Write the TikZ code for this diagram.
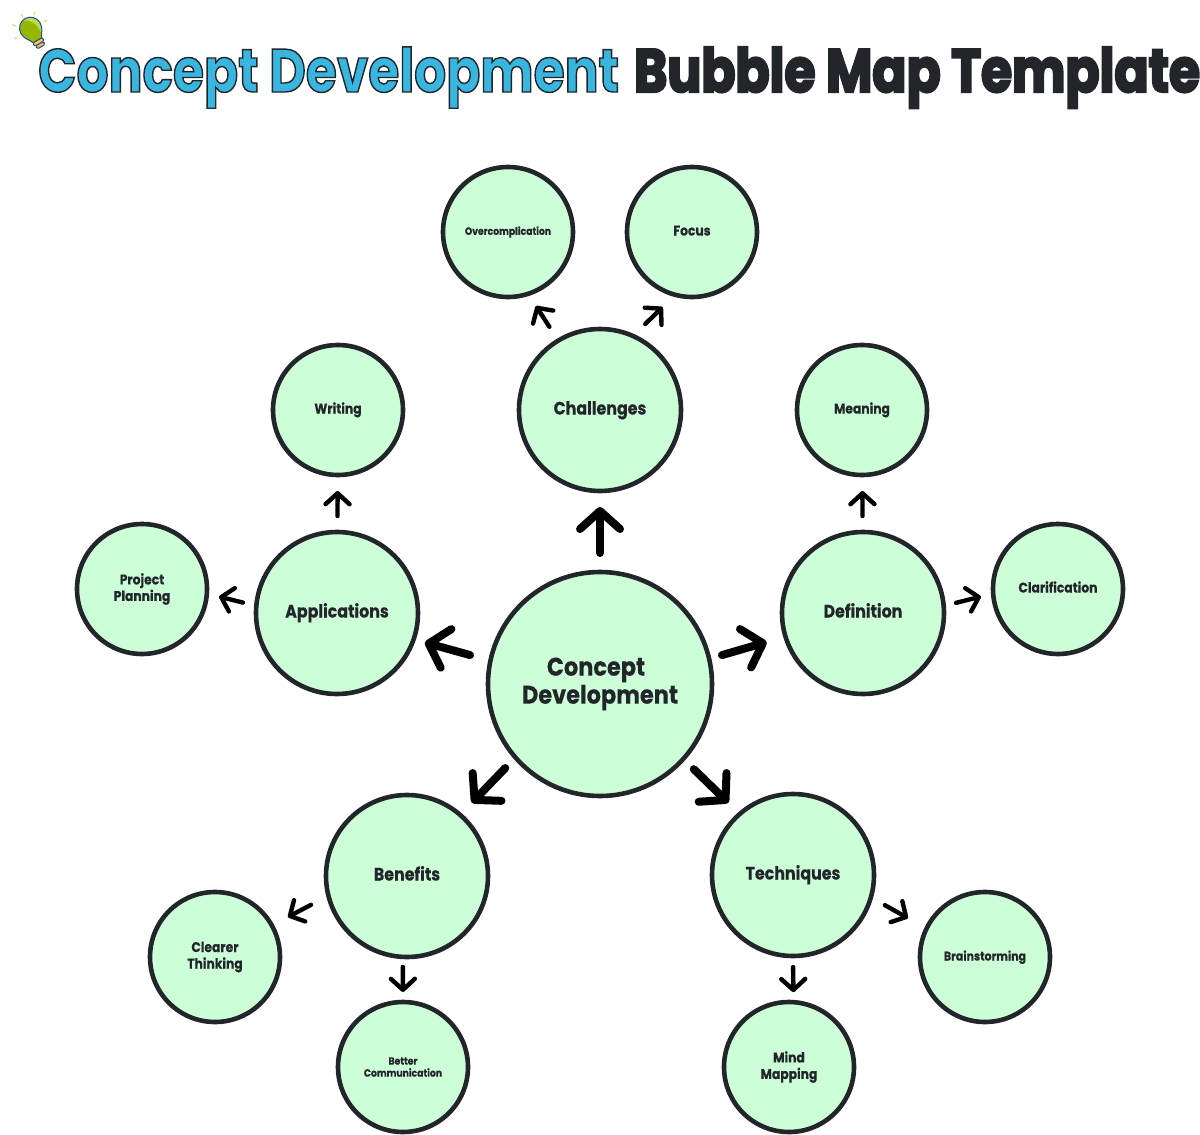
\documentclass[tikz,border=0pt]{standalone}
\usepackage{fontspec}
\setmainfont{Poppins}[FakeStretch=0.88,BoldFeatures={FakeBold=0.3}]
\newfontfamily\titlefont{Poppins}[FakeStretch=0.825]
\usetikzlibrary{arrows.meta}
\definecolor{inkdark}{HTML}{222529}
\definecolor{bubblefill}{HTML}{CCFFD8}
\definecolor{titleblue}{HTML}{38B6E0}
\definecolor{bulbgreen}{HTML}{94B800}
\definecolor{bulblight}{HTML}{B9DC50}
\definecolor{bulbline}{HTML}{1F4E9C}
\definecolor{bulbbase}{HTML}{FBBF4D}
\newcommand{\strokedtext}[2]{\special{pdf:code 2 Tr #1 w 0.133 0.145 0.161 RG}#2\special{pdf:code 0 Tr}}
\begin{document}
\begin{tikzpicture}[x=1pt,y=-1pt,
 every node/.style={font=\bfseries,text=inkdark,align=center},
 bubble/.style={circle,draw=inkdark,fill=bubblefill,line width=4.6pt,inner sep=0pt,outer sep=0pt},
 hub/.style={bubble,minimum size=224pt,font=\fontsize{25.5}{28}\bfseries},
 topic/.style={bubble,minimum size=162pt,text height=13.5pt,text depth=4.5pt,font=\fontsize{18}{22}\bfseries},
 leaf/.style={bubble,minimum size=130pt,font=\fontsize{14}{16.5}\bfseries},
 wordleaf/.style={leaf,text height=10.5pt,text depth=3.5pt},
 tinyleaf/.style={bubble,minimum size=130pt,font=\fontsize{10.5}{12}\bfseries},
 titletext/.style={anchor=base west,inner sep=0pt,font=\fontsize{61}{70}\titlefont\bfseries},
 bigarrow/.style={line width=8pt,line cap=round,-{Straight Barb[length=18pt,width=40pt,round]}},
 smallarrow/.style={line width=4.4pt,line cap=round,-{Straight Barb[length=11pt,width=24pt,round]}}]
 \useasboundingbox (0,0) rectangle (1200,1135);
 \node [hub] (concept) at (600,684) {Concept\hspace*{8pt}\\Development};
 \node [topic] (challenges) at (600,410) {Challenges};
 \node [topic] (applications) at (337,613) {Applications};
 \node [topic] (definition) at (863,613) {Definition};
 \node [topic] (benefits) at (407,876) {Benefits};
 \node [topic] (techniques) at (793,875) {Techniques};
 \node [tinyleaf] (overcomplication) at (508,232) {Overcomplication};
 \node [wordleaf] (focus) at (692,232) {Focus};
 \node [wordleaf] (writing) at (338,410) {Writing};
 \node [wordleaf] (meaning) at (862,410) {Meaning};
 \node [leaf] (planning) at (142,589) {Project\\Planning};
 \node [wordleaf] (clarification) at (1058,589) {Clarification};
 \node [leaf] (thinking) at (215,957) {Clearer\\Thinking};
 \node [tinyleaf] (communication) at (403,1067) {Better\\Communication};
 \node [leaf] (mapping) at (789,1067) {Mind\\Mapping};
 \node [wordleaf,font=\fontsize{12.5}{15}\bfseries] (brainstorming) at (985,957) {Brainstorming};
 \draw [bigarrow,shorten <=19pt,shorten >=16pt] (concept) -- (challenges);
 \draw [bigarrow,shorten <=21.2pt,shorten >=11.7pt] (concept.168.1) -- (applications.341.5);
 \draw [bigarrow,shorten <=13.4pt,shorten >=19.6pt] (concept.13.2) -- (definition.197.9);
 \draw [bigarrow,shorten <=14.7pt,shorten >=16.8pt] (concept.221.7) -- (benefits.49);
 \draw [bigarrow,shorten <=14.7pt,shorten >=16pt] (concept.318.3) -- (techniques.131.5);
 \draw [smallarrow,shorten <=16.4pt,shorten >=14.5pt] (challenges.121.5) -- (overcomplication.288.3);
 \draw [smallarrow,shorten <=17.2pt,shorten >=17.6pt] (challenges.66.3) -- (focus.255.6);
 \draw [smallarrow,shorten <=16pt,shorten >=16pt] (applications) -- (writing);
 \draw [smallarrow,shorten <=13.8pt,shorten >=12.6pt] (applications.175.7) -- (planning.356.9);
 \draw [smallarrow,shorten <=16pt,shorten >=16pt] (definition) -- (meaning);
 \draw [smallarrow,shorten <=12.7pt,shorten >=12.6pt] (definition.5) -- (clarification.184.5);
 \draw [smallarrow,shorten <=19.7pt,shorten >=18.2pt] (benefits.194.2) -- (thinking.29);
 \draw [smallarrow,shorten <=10pt,shorten >=10pt] (benefits.267.2) -- (communication.90);
 \draw [smallarrow,shorten <=11pt,shorten >=10pt] (techniques.270) -- (mapping.86.5);
 \draw [smallarrow,shorten <=16.1pt,shorten >=21.3pt] (techniques.344.2) -- (brainstorming.154);
 \node [titletext,text=titleblue] (titlecolor) at (38,92) {\strokedtext{1.4}{Concept Development}};
 \node [titletext] (titledark) at (634,92) {\strokedtext{2.2}{Bubble Map Template}};
 \foreach \xa/\ya/\xb/\yb in {21/14/22.7/16.7,35/12/34/15.3,46.7/20/43.7/22,12.3/24.7/15.7/26,14.3/39/17.3/37.3}
  \draw [bulbbase!80,line width=1.2pt] (\xa,\ya) -- (\xb,\yb);
 \begin{scope}[shift={(31,29)},rotate=30]
  \fill [bulbgreen] (-5,13) .. controls (-6,9) and (-11,6) .. (-11,-1) .. controls (-11,-7) and (-6,-12) .. (0,-12) .. controls (6,-12) and (11,-7) .. (11,-1) .. controls (11,6) and (6,9) .. (5,13) -- cycle;
  \fill [bulblight] (-3,-11.5) .. controls (5,-12) and (11,-7) .. (11,-1) .. controls (11,3) and (9,6) .. (7,8) .. controls (8,0) and (5,-8) .. (-3,-11.5) -- cycle;
  \draw [bulbline,line width=1pt] (-5,13) .. controls (-6,9) and (-11,6) .. (-11,-1) .. controls (-11,-7) and (-6,-12) .. (0,-12) .. controls (6,-12) and (11,-7) .. (11,-1) .. controls (11,6) and (6,9) .. (5,13) -- cycle;
  \draw [bulbline,fill=bulbbase,line width=1pt,rounded corners=1.5pt] (-5.5,13) rectangle (5.5,17);
  \draw [bulbline,fill=bulbbase,line width=1pt,rounded corners=1.5pt] (-4.5,17) rectangle (4.5,20.5);
 \end{scope}
\end{tikzpicture}
\end{document}
